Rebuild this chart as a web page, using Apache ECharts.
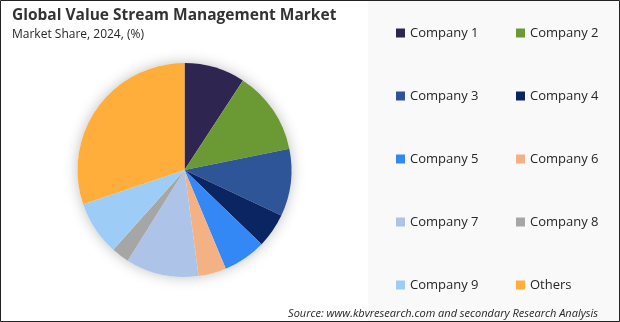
<!DOCTYPE html>
<html>
<head>
<meta charset="utf-8">
<script src="https://cdn.jsdelivr.net/npm/echarts@6/dist/echarts.min.js"></script>
<style>html,body{margin:0;padding:0;background:#fff}#c{width:620px;height:322px}</style>
</head>
<body>
<div id="c"></div>
<script>
const categories = ['Company 1','Company 2','Company 3','Company 4','Company 5','Company 6','Company 7','Company 8','Company 9','Others'];
const shares = [9.2, 12.6, 10.2, 5.2, 6.5, 4.2, 11.0, 2.7, 8.2, 30.2];
const colors = ['#2e2551','#6b9a35','#2e5597','#0b2462','#3388f5','#f4b183','#adc3e8','#a6a6a6','#9dcdf7','#ffad3b'];
const titleText = 'Global Value Stream Management Market';
const subtitleText = 'Market Share, 2024, (%)';
const sourceText = 'Source: www.kbvresearch.com and secondary Research Analysis';

const chart = echarts.init(document.getElementById('c'), null, {renderer: 'canvas'});
const legendText = {fontFamily: 'Open Sans', fontSize: 13, color: '#262626', lineHeight: 14};
chart.setOption({
  animation: false,
  backgroundColor: '#ffffff',
  color: colors,
  graphic: [
    {type: 'rect', z: -10, shape: {x: 368, y: 0, width: 252, height: 322}, style: {fill: '#f9f9f9'}},
    {type: 'rect', z: 100, shape: {x: 0.5, y: 0.5, width: 619, height: 321}, style: {fill: 'none', stroke: '#222', lineWidth: 1}},
    {type: 'text', left: 12, top: 8, style: {text: titleText, font: 'bold 15.5px "Open Sans"', fill: '#333333'}},
    {type: 'text', left: 12, top: 29, style: {text: subtitleText, font: '12px "Open Sans"', fill: '#262626'}},
    {type: 'text', right: 22, top: 308, style: {text: sourceText, font: 'italic 11px "Open Sans"', fill: '#262626'}}
  ],
  legend: [
    {orient: 'vertical', left: 391, top: 21, padding: 5, itemWidth: 9, itemHeight: 9, itemGap: 49, icon: 'rect',
     data: categories.filter((c, i) => i % 2 === 0), textStyle: legendText, selectedMode: false},
    {orient: 'vertical', left: 511, top: 21, padding: 5, itemWidth: 9, itemHeight: 9, itemGap: 49, icon: 'rect',
     data: categories.filter((c, i) => i % 2 === 1), textStyle: legendText, selectedMode: false}
  ],
  series: [
    {type: 'pie', center: [184.5, 170], radius: 107, silent: true, z: 1,
     label: {show: false}, labelLine: {show: false},
     itemStyle: {color: '#ffffff', shadowBlur: 14, shadowColor: 'rgba(0,0,0,0.25)'},
     data: [{value: 1, name: '_bg'}], legendHoverLink: false},
    {type: 'pie', center: [184.5, 170], radius: 107, startAngle: 90, clockwise: true, z: 2,
     label: {show: false}, labelLine: {show: false},
     itemStyle: {borderWidth: 0},
     data: categories.map((c, i) => ({name: c, value: shares[i], itemStyle: {color: colors[i]}}))}
  ]
});
</script>
</body>
</html>
